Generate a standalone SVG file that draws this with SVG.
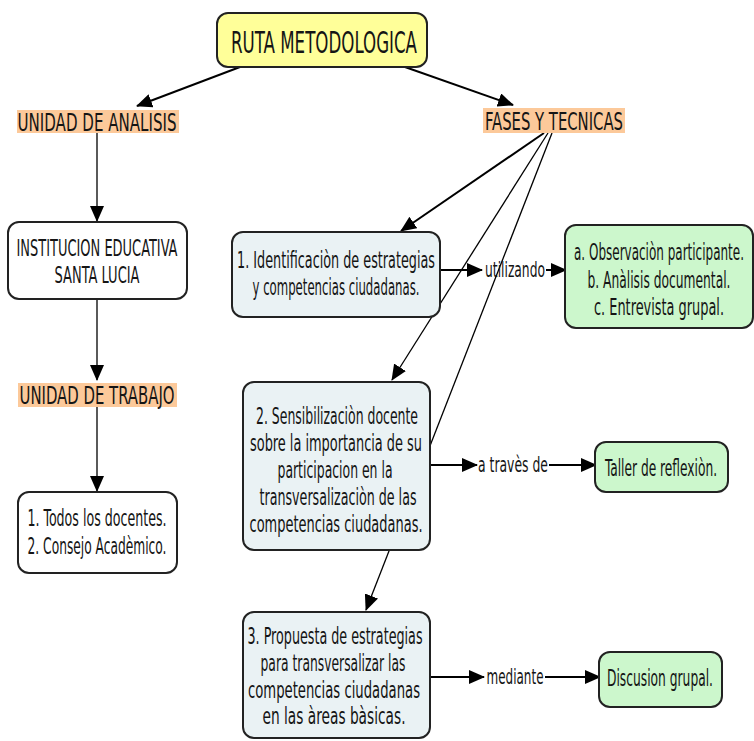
<svg xmlns="http://www.w3.org/2000/svg" width="754" height="741" viewBox="0 0 754 741">
<defs>
<marker id="ah" markerUnits="userSpaceOnUse" markerWidth="16" markerHeight="14" refX="15" refY="7" orient="auto">
<path d="M0,0 L16,7 L0,14 Z" fill="#000"/>
</marker>
<style>
text{font-family:"DejaVu Sans Condensed","DejaVu Sans",sans-serif;fill:#151515;text-anchor:middle}
.t{font-size:23px}
.h{font-size:25px}
.l{font-size:21px}
.box{stroke:#222;stroke-width:2}
.w{fill:#ffffff}
.b{fill:#eaf2f4}
.g{fill:#ccf7cc}
.y{fill:#ffff99}
.o{fill:#fcc99a}
.ca{stroke:#000;stroke-width:2;fill:none;marker-end:url(#ah)}
.ca1{stroke:#000;stroke-width:1.3;fill:none;marker-end:url(#ah)}
</style>
</defs>
<rect width="754" height="741" fill="#ffffff"/>
<g id="connectors">
<line class="ca" x1="240" y1="67" x2="137" y2="106"/>
<line class="ca" x1="405" y1="67" x2="513" y2="105"/>
<line class="ca1" x1="97" y1="133" x2="97" y2="221"/>
<line class="ca1" x1="97" y1="299" x2="97" y2="380"/>
<line class="ca1" x1="97" y1="407" x2="97" y2="491"/>
<line class="ca" x1="544" y1="133" x2="401" y2="231"/>
<line class="ca1" x1="548" y1="133" x2="392" y2="380"/>
<line class="ca1" x1="552" y1="133" x2="366" y2="610"/>
<line class="ca" x1="440" y1="270" x2="482" y2="270"/>
<line class="ca" x1="546" y1="270" x2="566" y2="270"/>
<line class="ca" x1="430" y1="465" x2="477" y2="465"/>
<line class="ca" x1="549" y1="465" x2="596" y2="465"/>
<line class="ca" x1="430" y1="677" x2="484" y2="677"/>
<line class="ca" x1="545" y1="677" x2="600" y2="677"/>
<text class="l" transform="translate(515,277) scale(0.5,1)" textLength="120" lengthAdjust="spacingAndGlyphs">utilizando</text>
<text class="l" transform="translate(513,472) scale(0.5,1)" textLength="140" lengthAdjust="spacingAndGlyphs">a travès de</text>
<text class="l" transform="translate(515,684) scale(0.5,1)" textLength="114" lengthAdjust="spacingAndGlyphs">mediante</text>
</g>
<g id="title">
<rect class="box y" x="217" y="13" width="210" height="54" rx="11"/>
<text style="font-size:31px" transform="translate(324,53) scale(0.5,1)" textLength="372" lengthAdjust="spacingAndGlyphs">RUTA METODOLOGICA</text>
</g>
<g id="unidad-analisis">
<rect class="o" x="17" y="110" width="162" height="23"/>
<text class="h" transform="translate(97,131) scale(0.5,1)" textLength="318" lengthAdjust="spacingAndGlyphs">UNIDAD DE ANALISIS</text>
</g>
<g id="fases">
<rect class="o" x="483" y="108" width="142" height="25"/>
<text class="h" transform="translate(554,130) scale(0.5,1)" textLength="276" lengthAdjust="spacingAndGlyphs">FASES Y TECNICAS</text>
</g>
<g id="institucion">
<rect class="box w" x="8" y="222" width="179" height="77" rx="11"/>
<text class="t" transform="translate(97,256) scale(0.5,1)" textLength="322" lengthAdjust="spacingAndGlyphs">INSTITUCION EDUCATIVA</text>
<text class="t" transform="translate(97,283) scale(0.5,1)" textLength="170" lengthAdjust="spacingAndGlyphs">SANTA LUCIA</text>
</g>
<g id="unidad-trabajo">
<rect class="o" x="18" y="383" width="159" height="24"/>
<text class="h" transform="translate(97,404) scale(0.5,1)" textLength="310" lengthAdjust="spacingAndGlyphs">UNIDAD DE TRABAJO</text>
</g>
<g id="docentes">
<rect class="box w" x="18" y="492" width="159" height="81" rx="11"/>
<text class="t" transform="translate(97,526) scale(0.5,1)" textLength="278" lengthAdjust="spacingAndGlyphs">1. Todos los docentes.</text>
<text class="t" transform="translate(97,554) scale(0.5,1)" textLength="278" lengthAdjust="spacingAndGlyphs">2. Consejo Acadèmico.</text>
</g>
<g id="fase1">
<rect class="box b" x="232" y="232" width="208" height="85" rx="11"/>
<text class="t" transform="translate(336,268) scale(0.5,1)" textLength="396" lengthAdjust="spacingAndGlyphs">1. Identificaciòn de estrategias</text>
<text class="t" transform="translate(336,295) scale(0.5,1)" textLength="334" lengthAdjust="spacingAndGlyphs">y competencias ciudadanas.</text>
</g>
<g id="tecnicas">
<rect class="box g" x="565" y="225" width="188" height="103" rx="11"/>
<text class="t" transform="translate(659,260) scale(0.5,1)" textLength="340" lengthAdjust="spacingAndGlyphs">a. Observaciòn participante.</text>
<text class="t" transform="translate(659,288) scale(0.5,1)" textLength="286" lengthAdjust="spacingAndGlyphs">b. Anàlisis documental.</text>
<text class="t" transform="translate(659,315) scale(0.5,1)" textLength="260" lengthAdjust="spacingAndGlyphs">c. Entrevista grupal.</text>
</g>
<g id="fase2">
<rect class="box b" x="243" y="382" width="187" height="168" rx="11"/>
<text class="t" transform="translate(337,424) scale(0.5,1)" textLength="324" lengthAdjust="spacingAndGlyphs">2. Sensibilizaciòn docente</text>
<text class="t" transform="translate(336,451) scale(0.5,1)" textLength="344" lengthAdjust="spacingAndGlyphs">sobre la importancia de su</text>
<text class="t" transform="translate(335,478) scale(0.5,1)" textLength="230" lengthAdjust="spacingAndGlyphs">participacion en la</text>
<text class="t" transform="translate(338,505) scale(0.5,1)" textLength="314" lengthAdjust="spacingAndGlyphs">transversalizaciòn de las</text>
<text class="t" transform="translate(336,532) scale(0.5,1)" textLength="346" lengthAdjust="spacingAndGlyphs">competencias ciudadanas.</text>
</g>
<g id="taller">
<rect class="box g" x="595" y="442" width="133" height="50" rx="11"/>
<text class="t" transform="translate(661,476) scale(0.5,1)" textLength="224" lengthAdjust="spacingAndGlyphs">Taller de reflexiòn.</text>
</g>
<g id="fase3">
<rect class="box b" x="243" y="612" width="187" height="126" rx="11"/>
<text class="t" transform="translate(335,644) scale(0.5,1)" textLength="350" lengthAdjust="spacingAndGlyphs">3. Propuesta de estrategias</text>
<text class="t" transform="translate(333,671) scale(0.5,1)" textLength="290" lengthAdjust="spacingAndGlyphs">para transversalizar las</text>
<text class="t" transform="translate(334,698) scale(0.5,1)" textLength="344" lengthAdjust="spacingAndGlyphs">competencias ciudadanas</text>
<text class="t" transform="translate(334,724) scale(0.5,1)" textLength="286" lengthAdjust="spacingAndGlyphs">en las àreas bàsicas.</text>
</g>
<g id="discusion">
<rect class="box g" x="599" y="652" width="123" height="55" rx="11"/>
<text class="t" transform="translate(660,686) scale(0.5,1)" textLength="212" lengthAdjust="spacingAndGlyphs">Discusion grupal.</text>
</g>
</svg>
